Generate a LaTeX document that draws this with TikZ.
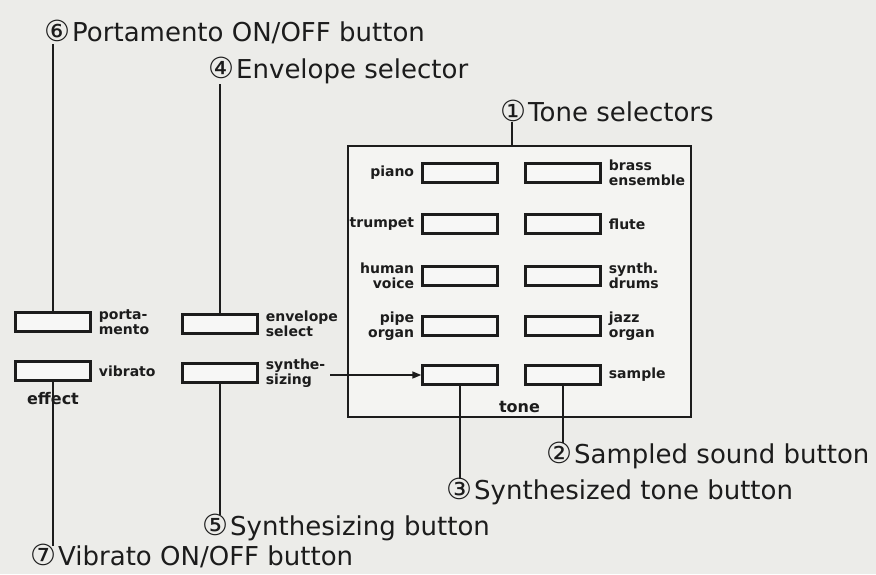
\documentclass[tikz,border=0pt]{standalone}
\usepackage{fontspec}
\setmainfont{DejaVu Sans}
\usetikzlibrary{arrows.meta,positioning}
\definecolor{paper}{RGB}{236,236,233}
\definecolor{ink}{RGB}{28,28,28}
\newcommand{\cnum}[1]{{\fontsize{29}{29}\selectfont #1}\kern2pt}

\begin{document}
\begin{tikzpicture}[x=1pt,y=-1pt,
    btn/.style={rectangle, draw=ink, fill=paper!40!white, line width=2.4pt,
                minimum width=75pt, minimum height=19pt, inner sep=0pt},
    tag/.style={inner sep=0pt, text=ink, font=\bfseries\fontsize{14}{15}\selectfont},
    tagl/.style={tag, align=right},
    tagr/.style={tag, align=left},
    callout/.style={anchor=west, inner sep=0pt, text=ink, font=\fontsize{26}{26}\selectfont},
    lead/.style={draw=ink, line width=1.8pt},
    arr/.style={-{Triangle[length=9pt,width=7pt]}, line width=1.6pt, ink},
    node distance=7pt]
    \useasboundingbox[fill=paper] (0,0) rectangle (876,574);

    % tone panel
    \node[draw=ink, line width=2pt, fill=paper!60!white, minimum width=343pt,
          minimum height=271pt, inner sep=0pt] (panel) at (519.5,281.5) {};
    \node[btn] (piano) at (460,173) {};
    \node[btn] (brass) at (563,173) {};
    \node[btn] (trumpet) at (460,224) {};
    \node[btn] (flute) at (563,224) {};
    \node[btn] (voice) at (460,276) {};
    \node[btn] (drums) at (563,276) {};
    \node[btn] (pipe) at (460,326) {};
    \node[btn] (jazz) at (563,326) {};
    \node[btn] (synbtn) at (460,375) {};
    \node[btn] (smpbtn) at (563,375) {};
    \node[tagl, left=of piano] (pianol) {piano};
    \node[tagl, left=of trumpet] (trumpetl) {trumpet};
    \node[tagl, left=of voice] (voicel) {human\\voice};
    \node[tagl, left=of pipe] (pipel) {pipe\\organ};
    \node[tagr, right=of brass] (brassl) {brass\\ensemble};
    \node[tagr, right=of flute] (flutel) {flute};
    \node[tagr, right=of drums] (drumsl) {synth.\\drums};
    \node[tagr, right=of jazz] (jazzl) {jazz\\organ};
    \node[tagr, right=of smpbtn] (smpl) {sample};
    \node[tag, font=\bfseries\fontsize{16}{16}\selectfont, above=5pt of panel.south] (tone) {tone};

    % effect and envelope buttons
    \node[btn] (porta) at (53,322) {};
    \node[btn] (vib) at (53,371) {};
    \node[btn] (env) at (220,324) {};
    \node[btn] (synth) at (220,373) {};
    \node[tagr, right=of porta] (portal) {porta-\\mento};
    \node[tagr, right=of vib] (vibl) {vibrato};
    \node[tagr, right=of env] (envl) {envelope\\select};
    \node[tagr, right=of synth] (synthl) {synthe-\\sizing};
    \node[tag, font=\bfseries\fontsize{16}{16}\selectfont, below=10pt of vib] (effect) {effect};

    % callouts
    \node[callout] (c6) at (44,32) {\cnum{⑥}Portamento ON/OFF button};
    \node[callout] (c4) at (208,70) {\cnum{④}Envelope selector};
    \node[callout] (c1) at (500,111) {\cnum{①}Tone selectors};
    \node[callout] (c2) at (546,455) {\cnum{②}Sampled sound button};
    \node[callout] (c3) at (446,491) {\cnum{③}Synthesized tone button};
    \node[callout] (c5) at (202,527) {\cnum{⑤}Synthesizing button};
    \node[callout] (c7) at (30,556) {\cnum{⑦}Vibrato ON/OFF button};
    \coordinate (t1) at ([xshift=12pt]c1.south west);

    \draw[lead] (porta.north) -- (porta.north |- c6.south);
    \draw[lead] (env.north) -- (env.north |- c4.south);
    \draw[lead] (t1) -- (t1 |- panel.north);
    \draw[lead] (smpbtn.south) -- ([yshift=-2pt]smpbtn.south |- c2.north);
    \draw[lead] (synbtn.south) -- ([yshift=-2pt]synbtn.south |- c3.north);
    \draw[lead] (synth.south) -- ([yshift=-2pt]synth.south |- c5.north);
    \draw[lead] (vib.south) -- ([yshift=-2pt]vib.south |- c7.north);
    \draw[arr] ([xshift=5pt]synthl.east |- synbtn.west) -- (synbtn.west);
\end{tikzpicture}
\end{document}
